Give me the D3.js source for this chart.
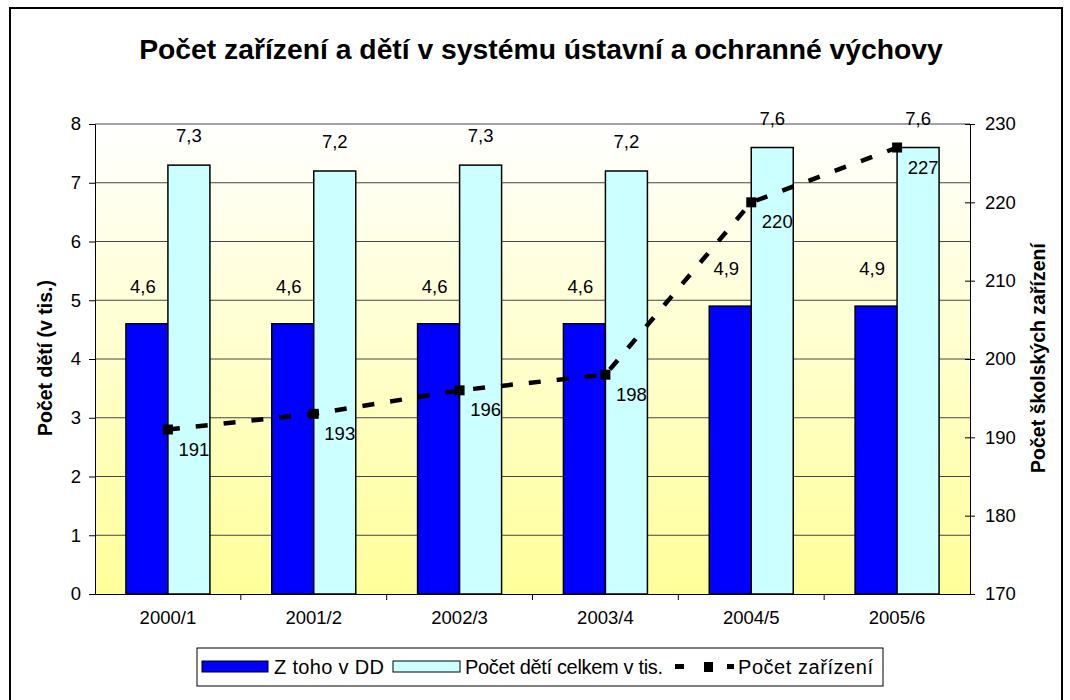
<!DOCTYPE html>
<html>
<head>
<meta charset="utf-8">
<style>
    body { margin: 0; background: #fff; }
    text { font-family: "Liberation Sans", Arial, sans-serif; fill: #000; }
</style>
<script src="https://d3js.org/d3.v7.min.js"></script>
</head>
<body>
<svg width="1070" height="700"></svg>
<script>
    var categories = ["2000/1", "2001/2", "2002/3", "2003/4", "2004/5", "2005/6"];
    var childrenDD = [4.6, 4.6, 4.6, 4.6, 4.9, 4.9];
    var childrenTotal = [7.3, 7.2, 7.3, 7.2, 7.6, 7.6];
    var facilities = [191, 193, 196, 198, 220, 227];
    var leftTicks = [0, 1, 2, 3, 4, 5, 6, 7, 8];
    var rightTicks = [170, 180, 190, 200, 210, 220, 230];

    var fmt = function (v) { return String(v).replace(".", ","); };

    var svg = d3.select("svg");
    var pLeft = 95, pRight = 970, pTop = 124, pBottom = 594;
    var fs = 18.5;

    // outer frame
    svg.append("rect")
        .attr("x", 10).attr("y", 8)
        .attr("width", 1052).attr("height", 710)
        .attr("fill", "#fff").attr("stroke", "#000").attr("stroke-width", 2);

    // gradient for plot area
    var grad = svg.append("defs").append("linearGradient")
        .attr("id", "bg").attr("x1", 0).attr("y1", 0).attr("x2", 0).attr("y2", 1);
    grad.append("stop").attr("offset", "0%").attr("stop-color", "#ffffff");
    grad.append("stop").attr("offset", "100%").attr("stop-color", "#ffff99");

    svg.append("rect")
        .attr("x", pLeft).attr("y", pTop)
        .attr("width", pRight - pLeft).attr("height", pBottom - pTop)
        .attr("fill", "url(#bg)");

    var x = d3.scaleBand().domain(categories).range([pLeft, pRight]);
    var xs = d3.scaleBand().domain(["dd", "total"]).range([-42, 42]);
    var y = d3.scaleLinear().domain([0, 8]).range([pBottom, pTop]);
    var y2 = d3.scaleLinear().domain([170, 230]).range([pBottom, pTop]);

    // gridlines
    svg.append("g").selectAll("line")
        .data(leftTicks.slice(1))
        .enter().append("line")
        .attr("x1", pLeft).attr("x2", pRight)
        .attr("y1", function (d) { return y(d); })
        .attr("y2", function (d) { return y(d); })
        .attr("stroke", "#444").attr("stroke-width", 1);

    // bars
    var cx = function (c) { return x(c) + x.bandwidth() / 2; };
    var bars = svg.append("g");
    bars.selectAll(".dd")
        .data(childrenDD)
        .enter().append("rect")
        .attr("x", function (d, i) { return cx(categories[i]) + xs("dd"); })
        .attr("y", function (d) { return y(d); })
        .attr("width", xs.bandwidth())
        .attr("height", function (d) { return y(0) - y(d); })
        .attr("fill", "#0000ff").attr("stroke", "#000").attr("stroke-width", 1.5);
    bars.selectAll(".tot")
        .data(childrenTotal)
        .enter().append("rect")
        .attr("x", function (d, i) { return cx(categories[i]) + xs("total"); })
        .attr("y", function (d) { return y(d); })
        .attr("width", xs.bandwidth())
        .attr("height", function (d) { return y(0) - y(d); })
        .attr("fill", "#ccffff").attr("stroke", "#000").attr("stroke-width", 1.5);

    // axes
    var yAxis = d3.axisLeft(y).tickValues(leftTicks).tickSize(6).tickPadding(8);
    svg.append("g").attr("transform", "translate(" + pLeft + ",0)").call(yAxis);

    var y2Axis = d3.axisRight(y2).tickValues(rightTicks).tickSize(5).tickPadding(10);
    var gR = svg.append("g").attr("transform", "translate(" + pRight + ",0)").call(y2Axis);
    gR.selectAll(".tick line").attr("x1", -5);

    var xAxis = d3.axisBottom(x).tickSize(0).tickPadding(17);
    var gX = svg.append("g").attr("transform", "translate(0," + pBottom + ")").call(xAxis);
    gX.append("g").selectAll("line")
        .data(categories.slice(1))
        .enter().append("line")
        .attr("x1", function (d) { return x(d); })
        .attr("x2", function (d) { return x(d); })
        .attr("y1", 0).attr("y2", 6)
        .attr("stroke", "#000");
    svg.selectAll(".domain").attr("stroke", "#000");
    svg.selectAll(".tick text").attr("font-size", fs)
        .attr("font-family", "Liberation Sans, Arial, sans-serif");

    // bar labels
    svg.append("g").selectAll("text")
        .data(childrenDD)
        .enter().append("text")
        .attr("x", function (d, i) { return cx(categories[i]) + xs("dd") + xs.bandwidth() / 2 - 4; })
        .attr("y", function (d) { return y(d) - 31; })
        .attr("text-anchor", "middle").attr("font-size", fs)
        .text(fmt);
    svg.append("g").selectAll("text")
        .data(childrenTotal)
        .enter().append("text")
        .attr("x", function (d, i) { return cx(categories[i]) + xs("total") + xs.bandwidth() / 2; })
        .attr("y", function (d) { return y(d) - 23; })
        .attr("text-anchor", "middle").attr("font-size", fs)
        .text(fmt);

    // facilities line
    var line = d3.line()
        .x(function (d, i) { return cx(categories[i]); })
        .y(function (d) { return y2(d); });
    svg.append("path")
        .datum(facilities)
        .attr("d", line)
        .attr("fill", "none").attr("stroke", "#000")
        .attr("stroke-width", 4.5).attr("stroke-dasharray", "12,16");
    svg.append("g").selectAll("rect")
        .data(facilities)
        .enter().append("rect")
        .attr("x", function (d, i) { return cx(categories[i]) - 5; })
        .attr("y", function (d) { return y2(d) - 5; })
        .attr("width", 10).attr("height", 10)
        .attr("fill", "#000");
    svg.append("g").selectAll("text")
        .data(facilities)
        .enter().append("text")
        .attr("x", function (d, i) { return cx(categories[i]) + 26; })
        .attr("y", function (d) { return y2(d) + 26; })
        .attr("text-anchor", "middle").attr("font-size", fs)
        .text(function (d) { return d; });

    // titles
    svg.append("text")
        .attr("x", 541).attr("y", 59)
        .attr("text-anchor", "middle")
        .attr("font-size", 28.3).attr("font-weight", "bold")
        .text("Počet zařízení a dětí v systému ústavní a ochranné výchovy");
    svg.append("text")
        .attr("transform", "translate(52,358) rotate(-90)")
        .attr("text-anchor", "middle")
        .attr("font-size", 19.5).attr("font-weight", "bold")
        .text("Počet dětí (v tis.)");
    svg.append("text")
        .attr("transform", "translate(1045,358) rotate(-90)")
        .attr("text-anchor", "middle")
        .attr("font-size", 19.5).attr("font-weight", "bold")
        .text("Počet školských zařízení");

    // legend
    var lg = svg.append("g");
    lg.append("rect")
        .attr("x", 197).attr("y", 648).attr("width", 686).attr("height", 38)
        .attr("fill", "#fff").attr("stroke", "#000").attr("stroke-width", 1);
    lg.append("rect").attr("x", 202).attr("y", 661).attr("width", 66).attr("height", 11)
        .attr("fill", "#0000ff").attr("stroke", "#000");
    lg.append("text").attr("x", 274).attr("y", 674).attr("font-size", 20)
        .attr("textLength", 110).text("Z toho v DD");
    lg.append("rect").attr("x", 393).attr("y", 661).attr("width", 67).attr("height", 11)
        .attr("fill", "#ccffff").attr("stroke", "#000");
    lg.append("text").attr("x", 465).attr("y", 674).attr("font-size", 20)
        .attr("textLength", 198).text("Počet dětí celkem v tis.");
    lg.append("rect").attr("x", 675).attr("y", 664).attr("width", 9).attr("height", 5).attr("fill", "#000");
    lg.append("rect").attr("x", 704).attr("y", 662).attr("width", 9).attr("height", 10).attr("fill", "#000");
    lg.append("rect").attr("x", 727).attr("y", 664).attr("width", 7).attr("height", 5).attr("fill", "#000");
    lg.append("text").attr("x", 738).attr("y", 674).attr("font-size", 20)
        .attr("textLength", 135).text("Počet zařízení");
</script>
</body>
</html>
